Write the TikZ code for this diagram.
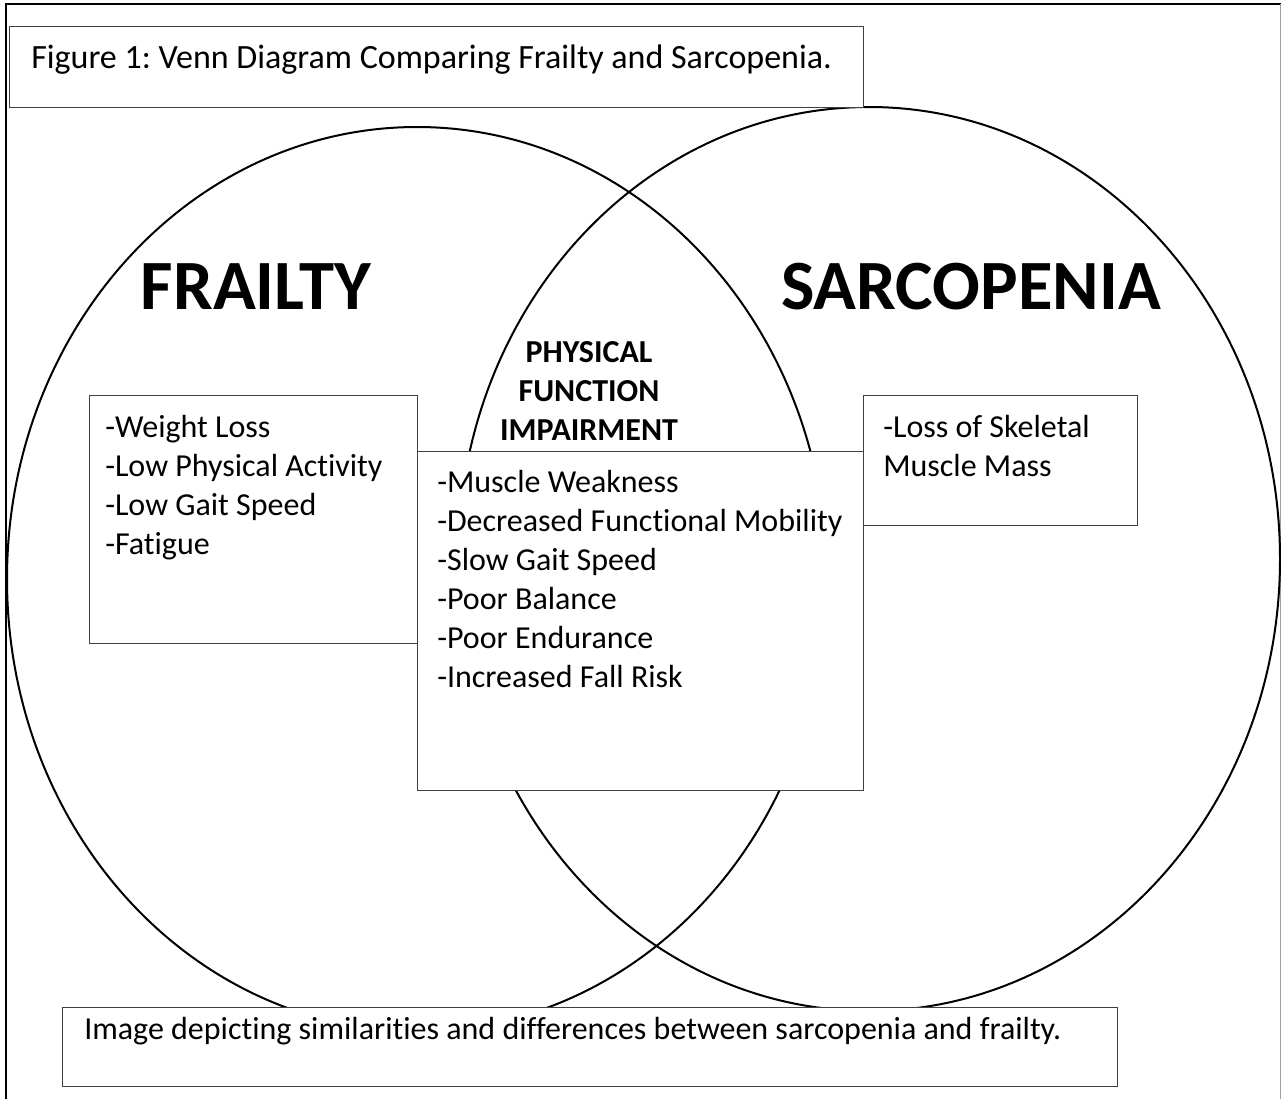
\documentclass[tikz,border=0pt]{standalone}
\usepackage{fontspec}
\setmainfont{Carlito}[Ligatures=NoCommon]
\usepackage{tikz}
\frenchspacing

\begin{document}
\begin{tikzpicture}[x=0.75pt,y=0.75pt,yscale=-1,xscale=1]
\useasboundingbox (0,0) rectangle (1281,1099);
\tikzset{listbox/.style={draw={rgb, 255:red, 64; green, 64; blue, 64 }, line width=0.75, fill=white},
  listtext/.style={inner sep=0.75pt, align=left, font=\fontsize{24}{29.25}\selectfont}}

%Shape: Frame
\draw [line width=1.5]  (6,1099) -- (6,3.7) -- (1280.5,3.7) ;
\draw [color={rgb, 255:red, 160; green, 160; blue, 160 }  ][line width=0.75]  (1280.5,3.7) -- (1280.5,1099) ;

%Shape: Ellipse [frailty]
\draw  [line width=1.5]  (417,579) ellipse (410 and 452) ;
%Shape: Ellipse [sarcopenia]
\draw  [line width=1.5]  (869,559) ellipse (411 and 452) ;

%Shape: Rectangle [title]
\draw  [listbox]  (9,27) -- (863,27) -- (863,107) -- (9,107) -- cycle ;
%Shape: Rectangle [frailty list]
\draw  [listbox]  (89,395) -- (417,395) -- (417,643) -- (89,643) -- cycle ;
%Shape: Rectangle [shared list]
\draw  [listbox]  (417,451) -- (863,451) -- (863,790) -- (417,790) -- cycle ;
%Shape: Rectangle [sarcopenia list]
\draw  [listbox]  (863,395) -- (1137,395) -- (1137,525) -- (863,525) -- cycle ;
%Shape: Rectangle [caption]
\draw  [listbox]  (62,1007) -- (1117,1007) -- (1117,1086) -- (62,1086) -- cycle ;

% Text Node
\draw (30,69) node (title) [anchor=base west][listtext][font=\fontsize{25.5}{30}\selectfont]  {Figure 1: Venn Diagram Comparing Frailty and Sarcopenia.};
% Text Node
\draw (256,309) node (frailty) [anchor=base][inner sep=0.75pt]  {\fontsize{53}{62}\selectfont\bfseries FRAILTY};
% Text Node
\draw (971,309) node (sarcopenia) [anchor=base][inner sep=0.75pt]  {\fontsize{53}{62}\selectfont\bfseries SARCOPENIA};
% Text Node
\draw (589,340) node (physical) [anchor=north][listtext][align=center]  {\bfseries PHYSICAL\\\bfseries FUNCTION\\\bfseries IMPAIRMENT};
% Text Node
\draw (104,414) node (frailtylist) [anchor=north west][listtext]  {-Weight Loss\\-Low Physical Activity\\-Low Gait Speed\\-Fatigue};
% Text Node
\draw (436,469) node (sharedlist) [anchor=north west][listtext]  {-Muscle Weakness\\-Decreased Functional Mobility\\-Slow Gait Speed\\-Poor Balance\\-Poor Endurance\\-Increased Fall Risk};
% Text Node
\draw (882,414) node (sarcopenialist) [anchor=north west][listtext]  {-Loss of Skeletal\\Muscle Mass};
% Text Node
\draw (83,1039) node (caption) [anchor=base west][listtext]  {Image depicting similarities and differences between sarcopenia and frailty.};

\end{tikzpicture}
\end{document}
